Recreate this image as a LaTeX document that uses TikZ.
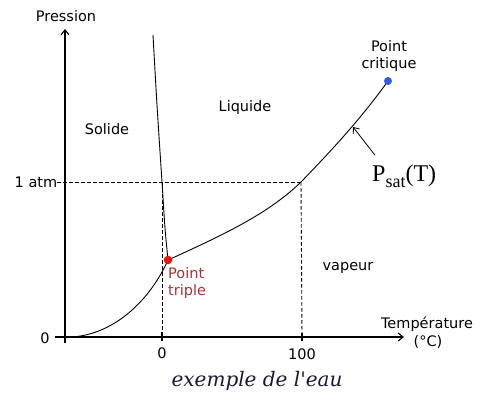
\documentclass[tikz,border=0pt]{standalone}
\usepackage{fontspec}
\setmainfont{Liberation Serif}
\setsansfont{DejaVu Sans}
\newfontfamily\legendefont{DejaVu Serif}
\usetikzlibrary{arrows.meta}
\definecolor{rougetriple}{RGB}{230, 20, 20}
\definecolor{textetriple}{RGB}{170, 50, 55}
\definecolor{bleucritique}{RGB}{55, 90, 230}
\definecolor{encre}{RGB}{25, 25, 55}
\tikzset{
  etiquette/.style={font=\sffamily\fontsize{14.5}{16}\selectfont, inner sep=0pt},
  axe/.style={line width=1.1pt, ->},
  courbe/.style={line width=0.9pt},
  pointilles/.style={line width=0.9pt, dash pattern=on 3.5pt off 2.5pt},
}
\begin{document}
\begin{tikzpicture}[x=1pt, y=-1pt, >={Straight Barb[length=5pt,width=8pt]}]
			\useasboundingbox (0,0) rectangle (482,394);
			% axes
			\coordinate (O) at (65,337);
			\coordinate (ybas) at (65,343);
			\coordinate (yhaut) at (65,29);
			\coordinate (xgauche) at (55,337);
			\coordinate (xdroite) at (404,337);
			\draw[axe] (ybas) -- (yhaut);
			\draw[axe] (xgauche) -- (xdroite);
			\node[etiquette] (pression) at (66,16) {Pression};
			\node[etiquette] (temperature) at (427,324) {Température};
			\node[etiquette] (unite) at (428,342) {(°C)};
			% graduations
			\coordinate (tzero) at (162,337);
			\coordinate (tcent) at (302,337);
			\draw[line width=1.1pt] ([yshift=-4pt]tzero) -- ([yshift=5pt]tzero);
			\draw[line width=1.1pt] ([yshift=-4pt]tcent) -- ([yshift=4pt]tcent);
			\node[etiquette] (zeroy) at (45,338) {0};
			\node[etiquette] (zerox) at (162,353) {0};
			\node[etiquette] (cent) at (302,354) {100};
			\node[etiquette] (atm) at (36,182) {1 atm};
			% points remarquables
			\coordinate (triple) at (168,260);
			\coordinate (critique) at (388,81);
			\coordinate (ebullition) at (301,182);
			\coordinate (fusion) at (162,182);
			\coordinate (vap) at (353,127);
			% lignes pointillees
			\draw[pointilles] (atm.east) -- (ebullition);
			\draw[pointilles] (ebullition) -- (tcent);
			\draw[pointilles] (fusion) -- (tzero);
			% courbes
			\draw[courbe] plot[smooth, tension=0.5] coordinates {(153,35) (157,105) (fusion) (165,228) (triple)};
			\draw[courbe] (72,337) .. controls (115,334) and (150,300) .. (triple);
			\draw[courbe] (triple) .. controls (230,232) and (270,212) .. (ebullition)
			  .. controls (330,152) and (360,120) .. (critique);
			\fill[rougetriple] (triple) circle (4.3pt);
			\fill[bleucritique] (critique) circle (4pt);
			% regions
			\node[etiquette] (solide) at (107,129) {Solide};
			\node[etiquette] (liquide) at (245,107) {Liquide};
			\node[etiquette] (vapeur) at (348,268) {vapeur};
			\node[etiquette, align=center] (ptcritique) at (389,56) {Point\\[1pt]critique};
			\node[etiquette, align=left, text=textetriple, anchor=north west] (pttriple) at (168,267) {Point\\[1pt]triple};
			% pression de vapeur saturante
			\node[inner sep=0pt, anchor=base west, font=\fontsize{24}{26}\selectfont] (psat) at (372,181)
			  {P\raisebox{-6pt}{\fontsize{18}{18}\selectfont sat}(T)};
			\draw[->, line width=0.8pt] ([xshift=3pt, yshift=9pt]psat.north west) -- (vap);
			\node[font=\legendefont\itshape\fontsize{20}{22}\selectfont, text=encre] (legende) at (257,381) {exemple de l'eau};
		\end{tikzpicture}
\end{document}
